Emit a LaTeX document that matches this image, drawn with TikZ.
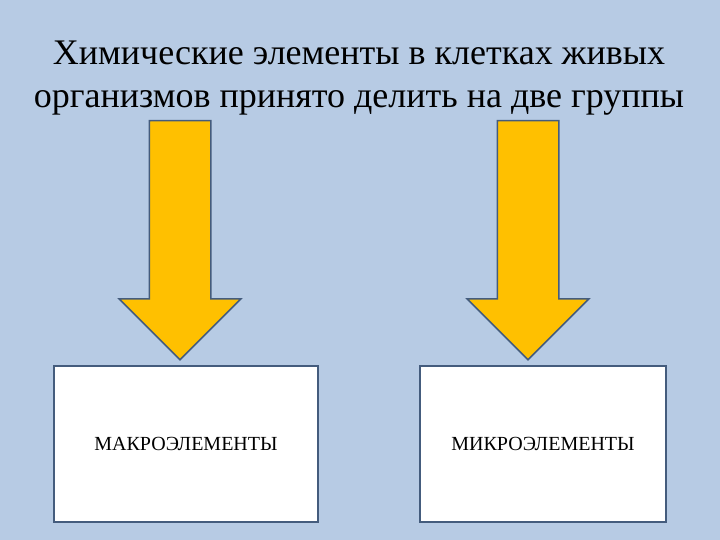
\documentclass[tikz,border=0pt]{standalone}
\usepackage{fontspec}
\setmainfont{Liberation Serif}
\usepackage{tikz}
\usetikzlibrary{
	positioning,
	shapes.arrows
}
\definecolor{slidebg}{RGB}{183,203,228}
\definecolor{arrowfill}{RGB}{255,192,0}
\definecolor{edgeblue}{RGB}{68,92,125}

\begin{document}
\begin{tikzpicture}[x=1pt,y=-1pt,
		downarrow/.style={single arrow, draw=edgeblue, fill=arrowfill, line width=1.5pt,
			minimum height=239pt, single arrow head extend=30pt,
			single arrow tip angle=90, inner sep=30pt, shape border rotate=270, anchor=tail},
		groupbox/.style={draw=edgeblue, fill=white, line width=1.5pt, minimum height=156pt,
			font=\fontsize{20}{24}\selectfont}
	]
		\fill[slidebg] (0,0) rectangle (720,540);
		\useasboundingbox (0,0) rectangle (720,540);

		\node[font=\fontsize{36}{43}\selectfont, align=center] (title) at (359,78)
			{Химические элементы в клетках живых\\организмов принято делить на две группы};

		\node[downarrow] (leftarrow) at (180,120) {};
		\node[downarrow] (rightarrow) at (528,120) {};

		\node[groupbox, minimum width=264pt] (macro) at (186,444) {МАКРОЭЛЕМЕНТЫ};
		\node[groupbox, minimum width=246pt] (micro) at (543,444) {МИКРОЭЛЕМЕНТЫ};
	\end{tikzpicture}
\end{document}
